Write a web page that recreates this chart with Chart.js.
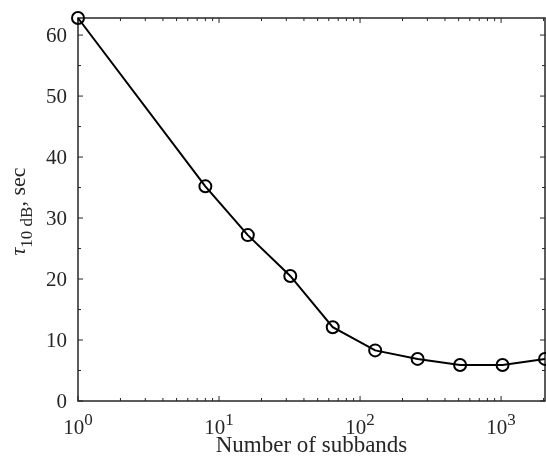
<!DOCTYPE html>
<html>
<head>
<meta charset="utf-8">
<script src="https://cdn.jsdelivr.net/npm/chart.js@4/dist/chart.umd.min.js"></script>
<style>
  html, body { margin: 0; padding: 0; background: #fff; }
  #wrap { width: 546px; height: 465px; position: relative; }
</style>
</head>
<body>
<div id="wrap"><canvas id="chart"></canvas></div>
<script>
// Data
const subbands = [1, 8, 16, 32, 64, 128, 256, 512, 1024, 2048];
const tau10dB = [62.8, 35.2, 27.2, 20.5, 12.1, 8.3, 6.9, 5.9, 5.9, 6.9];

// Axis ticks
const xMajorTicks = [1, 10, 100, 1000];
const xTickExponents = ['0', '1', '2', '3'];
const xMinorTicks = [2, 3, 4, 5, 6, 7, 8, 9, 20, 30, 40, 50, 60, 70, 80, 90,
  200, 300, 400, 500, 600, 700, 800, 900, 2000];
const yMajorTicks = [0, 10, 20, 30, 40, 50, 60];
const yMinorTicks = [5, 15, 25, 35, 45, 55];

const xTitle = 'Number of subbands';
const AXIS_COLOR = '#262626';
const FONT = '"Liberation Serif", "Times New Roman", serif';

// MATLAB-like box axes: inward ticks on all four sides, labels, titles
const matlabAxes = {
  id: 'matlabAxes',
  beforeDatasetsDraw(chart) {
    const { ctx, chartArea: a, scales: { x, y } } = chart;
    ctx.save();
    ctx.strokeStyle = AXIS_COLOR;
    ctx.lineWidth = 1;
    ctx.beginPath();
    const xTick = (v, len) => {
      const px = x.getPixelForValue(v);
      ctx.moveTo(px, a.bottom); ctx.lineTo(px, a.bottom - len);
      ctx.moveTo(px, a.top); ctx.lineTo(px, a.top + len);
    };
    const yTick = (v, len) => {
      const py = y.getPixelForValue(v);
      ctx.moveTo(a.left, py); ctx.lineTo(a.left + len, py);
      ctx.moveTo(a.right, py); ctx.lineTo(a.right - len, py);
    };
    xMinorTicks.forEach(v => xTick(v, 3));
    xMajorTicks.forEach(v => xTick(v, 5));
    yMinorTicks.forEach(v => yTick(v, 3));
    yMajorTicks.forEach(v => yTick(v, 5));
    ctx.stroke();

    ctx.lineWidth = 1.5;
    ctx.strokeRect(a.left, a.top, a.right - a.left, a.bottom - a.top);
    ctx.restore();
  },
  afterDraw(chart) {
    const { ctx, chartArea: a, scales: { x, y } } = chart;
    ctx.save();
    ctx.fillStyle = AXIS_COLOR;

    // y tick labels
    ctx.font = '21px ' + FONT;
    ctx.textAlign = 'right';
    ctx.textBaseline = 'alphabetic';
    yMajorTicks.forEach(v => {
      ctx.fillText(String(v), a.left - 11, y.getPixelForValue(v) + 7);
    });

    // x tick labels as 10^n
    ctx.textAlign = 'left';
    xMajorTicks.forEach((v, i) => {
      const px = x.getPixelForValue(v);
      ctx.font = '21px ' + FONT;
      const wBase = ctx.measureText('10').width;
      ctx.font = '17px ' + FONT;
      const wExp = ctx.measureText(xTickExponents[i]).width;
      const left = px - (wBase + wExp) / 2;
      ctx.font = '21px ' + FONT;
      ctx.fillText('10', left, a.bottom + 33);
      ctx.font = '17px ' + FONT;
      ctx.fillText(xTickExponents[i], left + wBase, a.bottom + 24);
    });

    // x axis title
    ctx.font = '23px ' + FONT;
    ctx.textAlign = 'center';
    ctx.fillText(xTitle, (a.left + a.right) / 2, a.bottom + 51);

    // y axis title: tau_{10 dB}, sec
    const parts = [
      { t: '\u03C4', f: 'italic 22px ' + FONT, dy: 0 },
      { t: '10 dB', f: '17px ' + FONT, dy: 7 },
      { t: ', sec', f: '22px ' + FONT, dy: 0 }
    ];
    let total = 0;
    parts.forEach(p => { ctx.font = p.f; p.w = ctx.measureText(p.t).width; total += p.w; });
    ctx.translate(25, (a.top + a.bottom) / 2 + 2);
    ctx.rotate(-Math.PI / 2);
    ctx.textAlign = 'left';
    let cx = -total / 2;
    parts.forEach(p => {
      ctx.font = p.f;
      ctx.fillText(p.t, cx, p.dy);
      cx += p.w;
    });
    ctx.restore();
  }
};

new Chart(document.getElementById('chart'), {
  type: 'line',
  data: {
    datasets: [{
      data: subbands.map((s, i) => ({ x: s, y: tau10dB[i] })),
      borderColor: '#000',
      borderWidth: 2,
      pointRadius: 6,
      pointBorderWidth: 2,
      pointBorderColor: '#000',
      pointBackgroundColor: 'rgba(0,0,0,0)',
      tension: 0,
      clip: false
    }]
  },
  options: {
    responsive: true,
    maintainAspectRatio: false,
    animation: false,
    layout: { autoPadding: false, padding: { left: 78, right: 1, top: 18, bottom: 64 } },
    plugins: { legend: { display: false }, tooltip: { enabled: false } },
    scales: {
      x: { type: 'logarithmic', min: 1, max: 2048, display: false },
      y: { type: 'linear', min: 0, max: 62.8, display: false }
    }
  },
  plugins: [matlabAxes]
});
</script>
</body>
</html>
